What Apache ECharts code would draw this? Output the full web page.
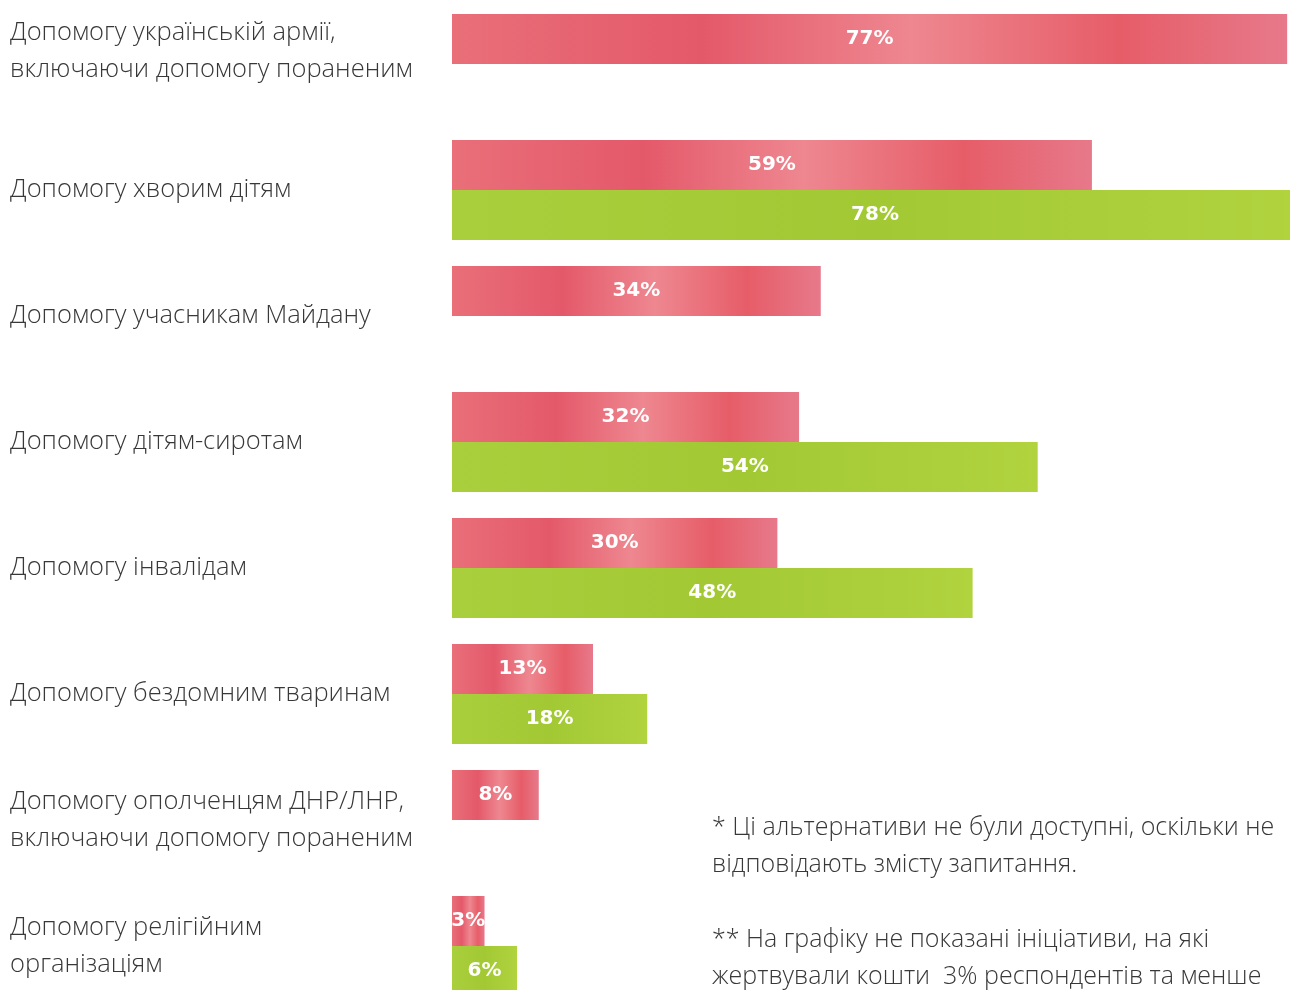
<!DOCTYPE html>
<html>
<head>
<meta charset="utf-8">
<script src="https://cdn.jsdelivr.net/npm/echarts@6/dist/echarts.min.js"></script>
<style>
  html, body { margin: 0; padding: 0; background: #ffffff; overflow: hidden; }
  /* полотно трохи більше за вікно: остання смуга обрізається краєм, як в оригіналі */
  #echarts { width: 1300px; height: 1010px; }
</style>
</head>
<body>
<div id="echarts"></div>
<script>
// категорії (зверху вниз)
var categories = [
  'Допомогу українській армії,\nвключаючи допомогу пораненим',
  'Допомогу хворим дітям',
  'Допомогу учасникам Майдану',
  'Допомогу дітям-сиротам',
  'Допомогу інвалідам',
  'Допомогу бездомним тваринам',
  'Допомогу ополченцям ДНР/ЛНР,\nвключаючи допомогу пораненим',
  'Допомогу релігійним\nорганізаціям'
];
// червоні смуги
var redValues = [77, 59, 34, 32, 30, 13, 8, 3];
// зелені смуги ('-' = альтернатива недоступна)
var greenValues = ['-', 78, '-', 54, 48, 18, '-', 6];

var notes = [
  '* Ці альтернативи не були доступні, оскільки не\nвідповідають змісту запитання.',
  '** На графіку не показані ініціативи, на які\nжертвували кошти  3% респондентів та менше'
];

var textColor = '#383838';
var labelFont = '"Open Sans", sans-serif';

var redFill = new echarts.graphic.LinearGradient(0, 0, 1, 0, [
  { offset: 0, color: '#e96f79' },
  { offset: 0.3, color: '#e4596a' },
  { offset: 0.55, color: '#ee8790' },
  { offset: 0.8, color: '#e65d68' },
  { offset: 1, color: '#e7798a' }
]);
var greenFill = new echarts.graphic.LinearGradient(0, 0, 1, 0, [
  { offset: 0, color: '#a9cf3c' },
  { offset: 0.5, color: '#a2c934' },
  { offset: 1, color: '#b0d33e' }
]);

var valueLabel = {
  show: true,
  position: 'inside',
  color: '#ffffff',
  fontFamily: '"DejaVu Sans", sans-serif',
  fontWeight: 'bold',
  fontSize: 20,
  formatter: '{c}%'
};

var chart = echarts.init(document.getElementById('echarts'));
chart.setOption({
  animation: false,
  grid: { left: 452, top: 1, width: 846, height: 1008, containLabel: false },
  xAxis: {
    type: 'value',
    min: 0,
    max: 78,
    show: false
  },
  yAxis: {
    type: 'category',
    data: categories,
    inverse: true,
    axisLine: { show: false },
    axisTick: { show: false },
    splitLine: { show: false },
    axisLabel: {
      align: 'left',
      margin: 442,
      color: textColor,
      fontFamily: labelFont,
      fontWeight: 300,
      fontSize: 25.5,
      lineHeight: 37,
      // перший підпис в оригіналі трохи вище центру смуги
      formatter: function (value, index) {
        return index === 0 ? value + '\n{gap|}' : value;
      },
      rich: {
        gap: { lineHeight: 25, height: 25 }
      }
    }
  },
  series: [
    {
      name: 'Серія 1',
      type: 'bar',
      data: redValues,
      barWidth: 50,
      barGap: '0%',
      itemStyle: { color: redFill },
      label: valueLabel
    },
    {
      name: 'Серія 2',
      type: 'bar',
      data: greenValues,
      barWidth: 50,
      barGap: '0%',
      itemStyle: { color: greenFill },
      label: valueLabel
    }
  ],
  graphic: [
    {
      type: 'text',
      left: 712,
      top: 809,
      style: {
        text: notes[0],
        fill: textColor,
        font: '300 25px "Open Sans", sans-serif',
        lineHeight: 37
      }
    },
    {
      type: 'text',
      left: 712,
      top: 921,
      style: {
        text: notes[1],
        fill: textColor,
        font: '300 25px "Open Sans", sans-serif',
        lineHeight: 37
      }
    }
  ]
});
</script>
</body>
</html>
